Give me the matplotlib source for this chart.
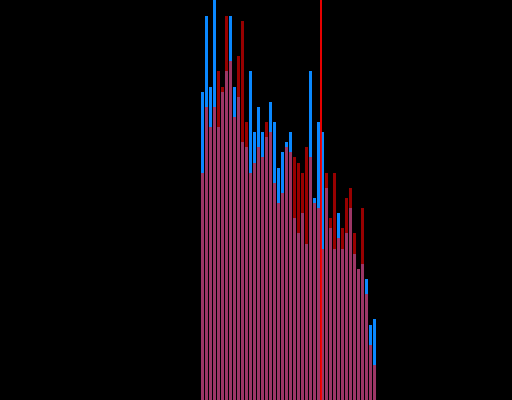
import numpy as np
import matplotlib
matplotlib.use('Agg')
import matplotlib.pyplot as plt

# Hauteurs (une barre par classe, deux séries superposées)
serie_bleue = [61.6, 76.8, 62.6, 84.0, 54.6, 61.6, 65.8, 76.8, 62.6, 60.6, 51.6,
               50.6, 65.8, 53.6, 58.6, 53.6, 52.6, 59.6, 55.6, 46.4, 49.6, 51.6,
               53.6, 36.4, 33.4, 37.4, 31.2, 65.8, 40.4, 55.6, 53.6, 42.4, 34.4,
               30.2, 37.4, 30.2, 33.4, 38.4, 29.2, 26.2, 27.2, 24.2, 15.0, 16.2]
serie_rouge = [45.4, 58.6, 54.6, 58.6, 65.8, 62.6, 76.8, 67.8, 56.6, 68.8, 75.8,
               55.6, 45.4, 47.4, 50.6, 48.6, 55.6, 53.6, 43.4, 39.4, 41.4, 50.6,
               49.6, 48.6, 47.4, 45.4, 50.6, 48.6, 39.4, 38.4, 30.2, 45.4, 36.4,
               45.4, 32.4, 34.4, 40.4, 42.4, 33.4, 26.2, 38.4, 21.2, 11.0, 7.0]
seuil = 29.5   # ligne verticale rouge

x = np.arange(len(serie_bleue))

fig = plt.figure(figsize=(5.12, 4.0), dpi=100, facecolor='black')
ax = fig.add_axes([0, 0, 1, 1])
ax.set_facecolor('black')

ax.bar(x, serie_bleue, width=0.75, color='#0a88ff', linewidth=0)
ax.bar(x, serie_rouge, width=0.75, color='#ff0000', alpha=0.6, linewidth=0)
ax.axvline(seuil, color='#ff0000', linewidth=1.3)

ax.set_xlim(-50.625, 77.375)
ax.set_ylim(0, 80)
ax.axis('off')

plt.savefig('out.png', dpi=100, facecolor='black')
